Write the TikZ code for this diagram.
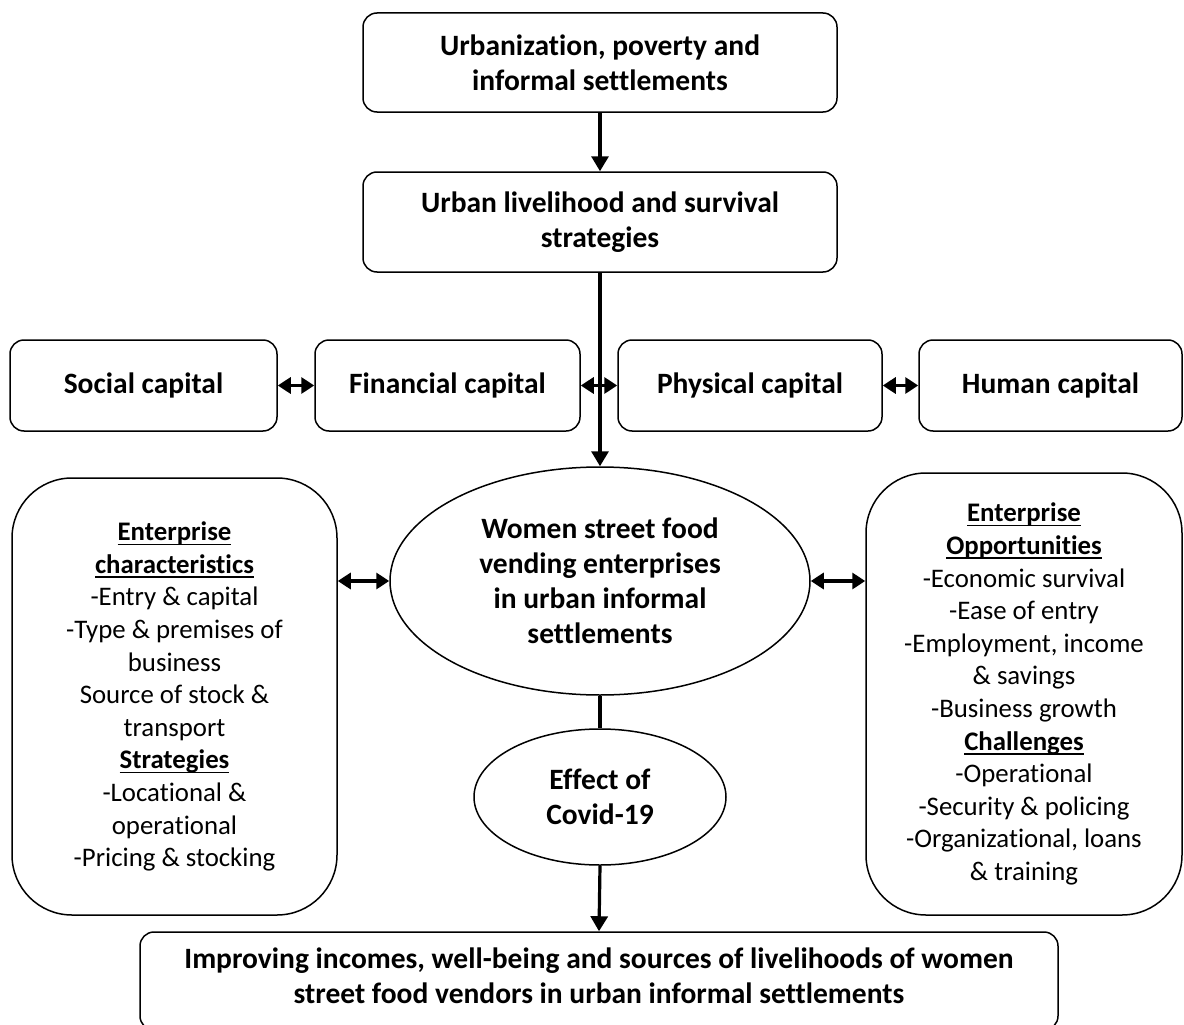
\documentclass[tikz,border=0pt]{standalone}
\usepackage{fontspec}
\setmainfont[Ligatures=NoCommon]{Carlito}
\usetikzlibrary{arrows.meta,shapes.geometric}
\newcommand\myul[1]{\setbox0\hbox{#1}\rlap{\rule[-4.5pt]{\wd0}{1.6pt}}\box0}
\tikzset{
  box/.style={draw, line width=1.5pt, rounded corners=14pt, align=center, inner sep=0pt,
    font=\bfseries\fontsize{29.5}{35}\selectfont},
  bigbox/.style={draw, line width=1.5pt, rounded corners=60pt, align=center, inner sep=0pt,
    font=\fontsize{26.8}{32.6}\selectfont},
  ell/.style={draw, ellipse, line width=1.5pt, align=center, inner sep=0pt,
    font=\bfseries\fontsize{29.5}{35}\selectfont},
  txt/.style={align=center, inner sep=0pt, font=\bfseries\fontsize{29.5}{35}\selectfont},
  arr/.style={line width=3.2pt, -{Triangle[length=15pt,width=17pt]}},
  darr/.style={line width=3.2pt, {Triangle[length=13pt,width=16pt]}-{Triangle[length=13pt,width=16pt]}},
  plain/.style={line width=3.2pt}
}
\begin{document}
\begin{tikzpicture}[x=1pt,y=-1pt]
\useasboundingbox (0,0) rectangle (1184,1025);
\clip (0,0) rectangle (1184,1025);
\node[box, minimum width=474, minimum height=99] (b1) at (600,62.5) {Urbanization, poverty and\\informal settlements};
\node[box, minimum width=474, minimum height=100] (b2) at (600,222) {Urban livelihood and survival\\strategies};
\node[box, minimum width=267, minimum height=91] (soc) at (143.5,385.5) {Social capital};
\node[box, minimum width=265, minimum height=91] (fin) at (447.5,385.5) {Financial capital};
\node[box, minimum width=264, minimum height=91] (phy) at (750,385.5) {Physical capital};
\node[box, minimum width=263, minimum height=91] (hum) at (1050.5,385.5) {Human capital};
\node[ell, minimum width=420, minimum height=228] (main) at (600,581) {Women street food\\vending enterprises\\in urban informal\\settlements};
\node[ell, minimum width=252, minimum height=136] (cov) at (600,797) {Effect of\\Covid-19};
\node[bigbox, minimum width=325, minimum height=437] (left) at (174.5,696.5) {\textbf{\myul{Enterprise}}\\\textbf{\myul{characteristics}}\\-Entry \& capital\\-Type \& premises of\\business\\Source of stock \&\\transport\\\textbf{\myul{Strategies}}\\-Locational \&\\operational\\-Pricing \& stocking};
\node[bigbox, minimum width=316, minimum height=442] (right) at (1024,694) {\textbf{\myul{Enterprise}}\\\textbf{\myul{Opportunities}}\\-Economic survival\\-Ease of entry\\-Employment, income\\\& savings\\-Business growth\\\textbf{\myul{Challenges}}\\-Operational\\-Security \& policing\\-Organizational, loans\\\& training};
\node[box, minimum width=918, minimum height=98] (bot) at (599,981) {};
\node[txt] (bottxt) at (599,976) {Improving incomes, well-being and sources of livelihoods of women\\street food vendors in urban informal settlements};
\draw[arr] (b1.south) -- (b2.north);
\draw[arr] (b2.south) -- (main.north);
\draw[darr] (soc.east) -- (fin.west);
\draw[darr] (fin.east) -- (phy.west);
\draw[darr] (phy.east) -- (hum.west);
\draw[darr] (main.west -| left.east) -- (main.west);
\draw[darr] (main.east) -- (main.east -| right.west);
\draw[plain] (main.south) -- (cov.north);
\draw[arr] (cov.south) -- (bot.north);
\end{tikzpicture}
\end{document}
